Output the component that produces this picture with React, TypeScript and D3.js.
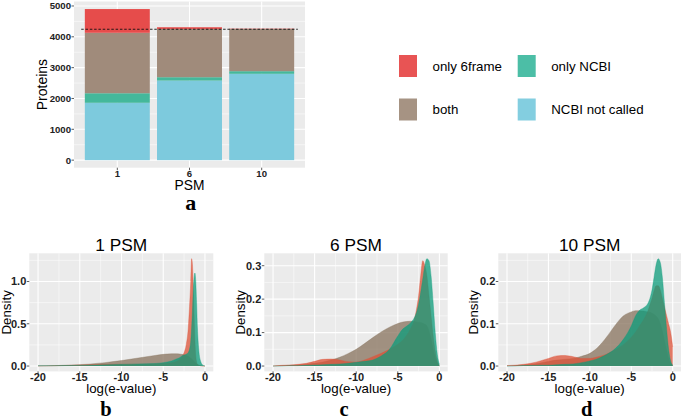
import React from 'react';
import * as d3 from 'd3';

// ---------- Panel a data ----------
const psmCategories = ['1', '6', '10'];
const ncbiNotCalled = [1860, 2580, 2800];
const onlyNCBI = [310, 110, 85];
const bothCounts = [1960, 1565, 1370];
const only6frame = [770, 55, 10];
const ncbiTotalLine = 4245;
const barYTicks = [0, 1000, 2000, 3000, 4000, 5000];
const legendLabels = ['only 6frame', 'only NCBI', 'both', 'NCBI not called'];

// ---------- Density data ----------
const xTicks = [-20, -15, -10, -5, 0];

const bX = [-20, -18, -16, -14, -12, -10, -8, -6, -5, -4, -3.5, -3, -2.75, -2.5, -2.25, -2, -1.85, -1.7, -1.6, -1.5, -1.4, -1.3, -1.2, -1.1, -1.0, -0.9, -0.75, -0.5, -0.25, 0];
const bBoth = [0.002, 0.005, 0.012, 0.022, 0.04, 0.065, 0.095, 0.125, 0.138, 0.145, 0.145, 0.142, 0.138, 0.133, 0.125, 0.115, 0.105, 0.095, 0.085, 0.075, 0.065, 0.055, 0.045, 0.035, 0.025, 0.018, 0.01, 0.004, 0.001, 0];
const bOnly6 = [0, 0.003, 0.008, 0.015, 0.02, 0.02, 0.02, 0.025, 0.03, 0.04, 0.05, 0.08, 0.11, 0.16, 0.25, 0.45, 0.7, 1.0, 1.27, 1.2, 0.95, 0.6, 0.3, 0.12, 0.05, 0.02, 0.01, 0.003, 0, 0];
const bOnlyNCBI = [0.002, 0.003, 0.005, 0.01, 0.015, 0.02, 0.025, 0.03, 0.04, 0.06, 0.08, 0.1, 0.12, 0.13, 0.14, 0.16, 0.2, 0.3, 0.45, 0.65, 0.9, 1.05, 1.1, 1.0, 0.75, 0.45, 0.2, 0.05, 0.01, 0];
const bYTicks = [0, 0.5, 1.0];

const cdX = [-20, -19, -18, -17, -16, -15, -14, -13, -12, -11, -10, -9, -8, -7, -6, -5, -4.5, -4, -3.5, -3, -2.75, -2.5, -2.25, -2, -1.75, -1.5, -1.25, -1, -0.75, -0.5, -0.25, 0];
const cBoth = [0, 0.001, 0.002, 0.003, 0.005, 0.008, 0.012, 0.018, 0.026, 0.037, 0.05, 0.067, 0.085, 0.102, 0.116, 0.127, 0.131, 0.133, 0.134, 0.133, 0.132, 0.131, 0.13, 0.128, 0.125, 0.12, 0.105, 0.08, 0.05, 0.025, 0.008, 0];
const cOnly6 = [0, 0.002, 0.003, 0.005, 0.008, 0.014, 0.02, 0.021, 0.018, 0.013, 0.012, 0.018, 0.028, 0.038, 0.05, 0.065, 0.075, 0.09, 0.11, 0.14, 0.17, 0.21, 0.27, 0.315, 0.3, 0.27, 0.21, 0.15, 0.09, 0.045, 0.015, 0];
const cOnlyNCBI = [0, 0, 0.001, 0.001, 0.002, 0.003, 0.004, 0.005, 0.006, 0.008, 0.011, 0.014, 0.018, 0.03, 0.05, 0.09, 0.108, 0.118, 0.128, 0.145, 0.16, 0.185, 0.22, 0.26, 0.3, 0.321, 0.315, 0.27, 0.19, 0.1, 0.035, 0.005];
const cYTicks = [0, 0.1, 0.2, 0.3];

const dBoth = [0, 0.001, 0.002, 0.004, 0.007, 0.011, 0.014, 0.016, 0.018, 0.023, 0.03, 0.045, 0.068, 0.095, 0.118, 0.128, 0.131, 0.131, 0.13, 0.128, 0.127, 0.125, 0.122, 0.118, 0.112, 0.1, 0.082, 0.06, 0.038, 0.018, 0.006, 0];
const dOnly6 = [0.001, 0.002, 0.004, 0.007, 0.012, 0.018, 0.024, 0.025, 0.022, 0.018, 0.018, 0.022, 0.028, 0.038, 0.05, 0.068, 0.08, 0.095, 0.11, 0.13, 0.145, 0.16, 0.178, 0.19, 0.19, 0.18, 0.16, 0.14, 0.12, 0.1, 0.08, 0.045];
const dOnlyNCBI = [0, 0, 0.001, 0.001, 0.002, 0.002, 0.003, 0.004, 0.005, 0.008, 0.012, 0.018, 0.027, 0.04, 0.062, 0.095, 0.118, 0.132, 0.138, 0.148, 0.16, 0.18, 0.21, 0.24, 0.254, 0.245, 0.21, 0.15, 0.09, 0.04, 0.012, 0.002];
const dYTicks = [0, 0.1, 0.2];

// ---------- Styles ----------
const SANS = "'Liberation Sans', Arial, Helvetica, sans-serif";
const SERIF = "'Liberation Serif', 'Times New Roman', serif";
const PANEL_BG = '#EBEBEB';
const barColors = { only6: '#E64C4B', onlyNCBI: '#44B89B', both: '#A08B7B', notCalled: '#7DCADD' };
const legendColors = ['#E85454', '#4CBEA6', '#A69383', '#83CEE0'];
const densColors = { both: '#87725C', only6: '#DE5237', onlyNCBI: '#0C9C7B' };
const DENS_ALPHA = 0.75;

function BarPanel() {
  const L = 74, R = 305, T = 1.5, B = 167.7;
  const rows = psmCategories.map((c, i) => ({
    cat: c,
    notCalled: ncbiNotCalled[i],
    onlyNCBI: onlyNCBI[i],
    both: bothCounts[i],
    only6: only6frame[i],
  }));
  const keys = ['notCalled', 'onlyNCBI', 'both', 'only6'] as const;
  const stack = d3.stack<any>().keys(keys as any)(rows);
  const maxTotal = d3.max(rows, (r) => r.notCalled + r.onlyNCBI + r.both + r.only6) as number;
  const x = d3.scaleBand().domain(psmCategories).range([L, R]).paddingInner(0.1).paddingOuter(0.15);
  const y = d3.scaleLinear().domain([-0.05 * maxTotal, 1.05 * maxTotal]).range([B, T]);
  const step = x.step();
  const minor = barYTicks.slice(0, -1).map((t, i) => (t + barYTicks[i + 1]) / 2).concat([5500]).filter((v) => y(v) >= T);
  const cx = (c: string) => (x(c) as number) + x.bandwidth() / 2;
  return (
    <g>
      <rect x={L} y={T} width={R - L} height={B - T} fill={PANEL_BG} />
      {minor.map((v) => (
        <line key={'m' + v} x1={L} x2={R} y1={y(v)} y2={y(v)} stroke="#fff" strokeWidth={0.5} />
      ))}
      {barYTicks.map((v) => (
        <line key={'g' + v} x1={L} x2={R} y1={y(v)} y2={y(v)} stroke="#fff" strokeWidth={1.1} />
      ))}
      {psmCategories.map((c) => (
        <line key={'v' + c} x1={cx(c)} x2={cx(c)} y1={T} y2={B} stroke="#fff" strokeWidth={1.1} />
      ))}
      {stack.map((layer: any) =>
        layer.map((d: any, i: number) => (
          <rect
            key={layer.key + i}
            x={x(psmCategories[i])}
            width={x.bandwidth()}
            y={y(d[1])}
            height={y(d[0]) - y(d[1])}
            fill={(barColors as any)[layer.key]}
          />
        ))
      )}
      <line
        x1={cx(psmCategories[0]) - step / 2}
        x2={cx(psmCategories[psmCategories.length - 1]) + step / 2}
        y1={y(ncbiTotalLine)}
        y2={y(ncbiTotalLine)}
        stroke="#111"
        strokeWidth={0.9}
        strokeDasharray="2.5,1.8"
      />
      {barYTicks.map((v) => (
        <g key={'t' + v}>
          <line x1={L - 2.5} x2={L} y1={y(v)} y2={y(v)} stroke="#333" strokeWidth={0.8} />
          <text x={L - 3} y={y(v)} dy="0.35em" textAnchor="end" fontSize={9.6} fontWeight="bold" fontFamily={SANS} fill="#222">
            {v}
          </text>
        </g>
      ))}
      {psmCategories.map((c) => (
        <g key={'xt' + c}>
          <line x1={cx(c)} x2={cx(c)} y1={B} y2={B + 2.5} stroke="#333" strokeWidth={0.8} />
          <text x={cx(c)} y={176.5} textAnchor="middle" fontSize={9.6} fontWeight="bold" fontFamily={SANS} fill="#222">
            {c}
          </text>
        </g>
      ))}
      <text x={(L + R) / 2} y={190.2} textAnchor="middle" fontSize={13.8} fontFamily={SANS} fill="#000">
        PSM
      </text>
      <text
        transform={`translate(46.5,${(T + B) / 2}) rotate(-90)`}
        textAnchor="middle"
        fontSize={14}
        fontFamily={SANS}
        fill="#000"
      >
        Proteins
      </text>
      <text x={190.8} y={209.5} textAnchor="middle" fontSize={22} fontWeight="bold" fontFamily={SERIF}>
        a
      </text>
    </g>
  );
}

function Legend() {
  const cols = [399, 517.7];
  const rows = [55, 98.5];
  return (
    <g>
      {legendLabels.map((lab, i) => {
        const cx = cols[i % 2];
        const ry = rows[Math.floor(i / 2)];
        return (
          <g key={lab}>
            <rect x={cx} y={ry} width={18} height={22} fill={legendColors[i]} />
            <text x={cx + 33.5} y={ry + 11} dy="0.35em" fontSize={13.3} fontFamily={SANS} fill="#000">
              {lab}
            </text>
          </g>
        );
      })}
    </g>
  );
}

type DensProps = {
  title: string;
  xs: number[];
  both: number[];
  only6: number[];
  onlyNCBI: number[];
  yTicks: number[];
  left: number;
  right: number;
  densityX: number;
  letter: string;
  letterX: number;
  id: string;
};

function DensityPanel(p: DensProps) {
  const T = 253.3, B = 371.4;
  const yMax = d3.max([...p.both, ...p.only6, ...p.onlyNCBI]) as number;
  const x = d3.scaleLinear().domain([-21.05, 1.0]).range([p.left, p.right]);
  const y = d3.scaleLinear().domain([-0.05 * yMax, 1.05 * yMax]).range([B, T]);
  const area = d3
    .area<number>()
    .x((_, i) => x(p.xs[i]))
    .y0(y(0))
    .y1((d) => y(d))
    .curve(d3.curveMonotoneX);
  const line = d3
    .line<number>()
    .x((_, i) => x(p.xs[i]))
    .y((d) => y(d))
    .curve(d3.curveMonotoneX);
  const step = p.yTicks[1] - p.yTicks[0];
  const yMinor: number[] = [];
  for (let v = step / 2; y(v) >= T; v += step) {
    if (!p.yTicks.some((t) => Math.abs(t - v) < 1e-9)) yMinor.push(v);
  }
  const xMinor = xTicks.slice(0, -1).map((t, i) => (t + xTicks[i + 1]) / 2);
  const series: [number[], string][] = [
    [p.both, densColors.both],
    [p.only6, densColors.only6],
    [p.onlyNCBI, densColors.onlyNCBI],
  ];
  const mid = (T + B) / 2;
  return (
    <g>
      <defs>
        <clipPath id={'clip' + p.id}>
          <rect x={p.left} y={T} width={p.right - p.left} height={B - T} />
        </clipPath>
      </defs>
      <rect x={p.left} y={T} width={p.right - p.left} height={B - T} fill={PANEL_BG} />
      {yMinor.map((v) => (
        <line key={'ym' + v} x1={p.left} x2={p.right} y1={y(v)} y2={y(v)} stroke="#fff" strokeWidth={0.5} />
      ))}
      {xMinor.map((v) => (
        <line key={'xm' + v} x1={x(v)} x2={x(v)} y1={T} y2={B} stroke="#fff" strokeWidth={0.5} />
      ))}
      {p.yTicks.map((v) => (
        <line key={'yg' + v} x1={p.left} x2={p.right} y1={y(v)} y2={y(v)} stroke="#fff" strokeWidth={1.1} />
      ))}
      {xTicks.map((v) => (
        <line key={'xg' + v} x1={x(v)} x2={x(v)} y1={T} y2={B} stroke="#fff" strokeWidth={1.1} />
      ))}
      <g clipPath={`url(#clip${p.id})`}>
        {series.map(([vals, col], i) => (
          <g key={i}>
            <path d={area(vals) as string} fill={col} fillOpacity={DENS_ALPHA} />
            <path d={line(vals) as string} fill="none" stroke={col} strokeOpacity={0.6} strokeWidth={0.6} />
          </g>
        ))}
      </g>
      {p.yTicks.map((v) => (
        <g key={'yt' + v}>
          <line x1={p.left - 2.5} x2={p.left} y1={y(v)} y2={y(v)} stroke="#333" strokeWidth={0.8} />
          <text x={p.left - 3} y={y(v)} dy="0.35em" textAnchor="end" fontSize={11} fontWeight="bold" fontFamily={SANS} fill="#222">
            {v.toFixed(1)}
          </text>
        </g>
      ))}
      {xTicks.map((v) => (
        <g key={'xt' + v}>
          <line x1={x(v)} x2={x(v)} y1={B} y2={B + 2.5} stroke="#333" strokeWidth={0.8} />
          <text x={x(v)} y={381.3} textAnchor="middle" fontSize={11} fontWeight="bold" fontFamily={SANS} fill="#222">
            {v}
          </text>
        </g>
      ))}
      <text x={(p.left + p.right) / 2} y={250.6} textAnchor="middle" fontSize={17.3} fontFamily={SANS} fill="#000">
        {p.title}
      </text>
      <text x={(p.left + p.right) / 2} y={392.6} textAnchor="middle" fontSize={13.3} fontFamily={SANS} fill="#000">
        log(e-value)
      </text>
      <text
        transform={`translate(${p.densityX},${mid}) rotate(-90)`}
        textAnchor="middle"
        fontSize={13.3}
        fontFamily={SANS}
        fill="#000"
      >
        Density
      </text>
      <text x={p.letterX} y={415.5} textAnchor="middle" fontSize={20.5} fontWeight="bold" fontFamily={SERIF}>
        {p.letter}
      </text>
    </g>
  );
}

export default function App() {
  return (
    <svg
      width={685}
      height={419}
      viewBox="0 0 685 419"
      style={{ position: 'absolute', left: 0, top: 0, background: '#fff' }}
    >
      <rect x={0} y={0} width={685} height={419} fill="#fff" />
      <BarPanel />
      <Legend />
      <DensityPanel
        id="b"
        title="1 PSM"
        xs={bX}
        both={bBoth}
        only6={bOnly6}
        onlyNCBI={bOnlyNCBI}
        yTicks={bYTicks}
        left={29.3}
        right={213.3}
        densityX={10.5}
        letter="b"
        letterX={106}
      />
      <DensityPanel
        id="c"
        title="6 PSM"
        xs={cdX}
        both={cBoth}
        only6={cOnly6}
        onlyNCBI={cOnlyNCBI}
        yTicks={cYTicks}
        left={264.3}
        right={447.7}
        densityX={244.5}
        letter="c"
        letterX={344}
      />
      <DensityPanel
        id="d"
        title="10 PSM"
        xs={cdX}
        both={dBoth}
        only6={dOnly6}
        onlyNCBI={dOnlyNCBI}
        yTicks={dYTicks}
        left={498.3}
        right={681}
        densityX={478}
        letter="d"
        letterX={586.7}
      />
    </svg>
  );
}
